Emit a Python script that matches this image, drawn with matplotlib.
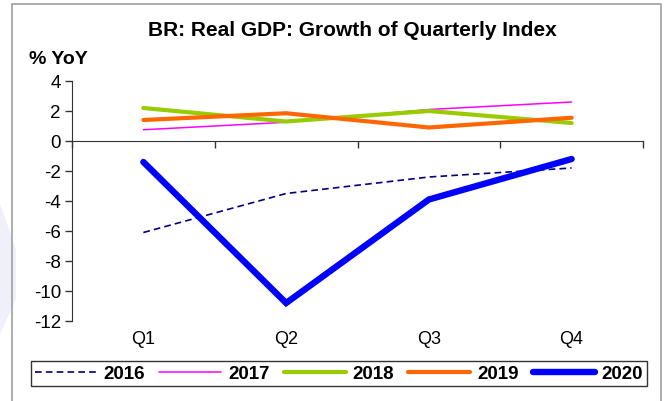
import numpy as np
import matplotlib.pyplot as plt
from matplotlib.patches import Rectangle, Polygon
from matplotlib.transforms import blended_transform_factory

plt.rcParams['font.family'] = ['Liberation Sans', 'DejaVu Sans']
plt.rcParams['axes.unicode_minus'] = False

quarters = ['Q1', 'Q2', 'Q3', 'Q4']
years = ['2016', '2017', '2018', '2019', '2020']
g2016 = [-6.1, -3.5, -2.4, -1.8]
g2017 = [0.75, 1.25, 2.1, 2.6]
g2018 = [2.2, 1.3, 2.0, 1.2]
g2019 = [1.4, 1.85, 0.9, 1.55]
g2020 = [-1.4, -10.8, -3.9, -1.2]

series = [g2016, g2017, g2018, g2019, g2020]
colors = ['#000080', '#FF00FF', '#99CC00', '#FF6600', '#0000FF']
widths = [1.2, 1.1, 3.0, 3.0, 4.6]
styles = [(0, (4, 2.5)), '-', '-', '-', '-']

W, H = 667, 402
fig = plt.figure(figsize=(W / 100, H / 100), dpi=100)

def px(x, y):
    # pixel position (from top-left) -> figure fraction
    return x / W, 1 - y / H

# faint watermark shape on the left
fig.patches.append(Polygon([px(0, 205), px(16, 250), px(16, 300), px(0, 335)],
                           closed=True, transform=fig.transFigure,
                           facecolor='#F0F0F8', edgecolor='none', zorder=0))
# outer frame
fig.patches.append(Rectangle((12 / W, -0.01), 649 / W, 1 - 5 / H + 0.01,
                             transform=fig.transFigure, fill=False,
                             edgecolor='#A0A0A0', linewidth=1.2, zorder=1))

ax = fig.add_axes([72 / W, 1 - 322 / H, 571 / W, 240 / H])
ax.patch.set_alpha(0)

x = np.arange(len(quarters))
handles = []
for vals, c, lw, ls, yr in zip(series, colors, widths, styles, years):
    h, = ax.plot(x, vals, color=c, linewidth=lw, linestyle=ls,
                 solid_capstyle='round', solid_joinstyle='miter', label=yr)
    handles.append(h)

ax.set_xlim(-0.5, len(quarters) - 0.5)
ax.set_ylim(-12, 4)
ax.set_yticks(np.arange(-12, 5, 2))
ax.tick_params(axis='y', labelsize=13.5, length=5, width=1, color='#333333', pad=3)

for s in ['top', 'right']:
    ax.spines[s].set_visible(False)
ax.spines['left'].set_color('#333333')
ax.spines['bottom'].set_position(('data', 0))
ax.spines['bottom'].set_color('#333333')
ax.set_xticks(np.arange(-0.5, len(quarters), 1.0))
ax.set_xticklabels([])
ax.tick_params(axis='x', length=5, width=1, color='#333333', direction='out')

trans = blended_transform_factory(ax.transData, fig.transFigure)
for i, q in enumerate(quarters):
    ax.text(i, 1 - 340 / H, q, transform=trans, ha='center', va='center', fontsize=13)

fig.text(*px(352, 30), 'BR: Real GDP: Growth of Quarterly Index',
         ha='center', va='center', fontsize=15, fontweight='bold')
fig.text(*px(29, 60), '% YoY', ha='left', va='center',
         fontsize=14, fontweight='bold')

leg = fig.legend(handles=handles, labels=years, ncol=5,
                 loc='center', bbox_to_anchor=px(339, 374.5),
                 frameon=True, fancybox=False, handlelength=3.3,
                 columnspacing=0.75, handletextpad=0.37, borderpad=0.2,
                 borderaxespad=0, prop={'weight': 'bold', 'size': 13.5})
leg.get_frame().set_edgecolor('black')
leg.get_frame().set_linewidth(1.0)

fig.savefig('out.png', dpi=100)
